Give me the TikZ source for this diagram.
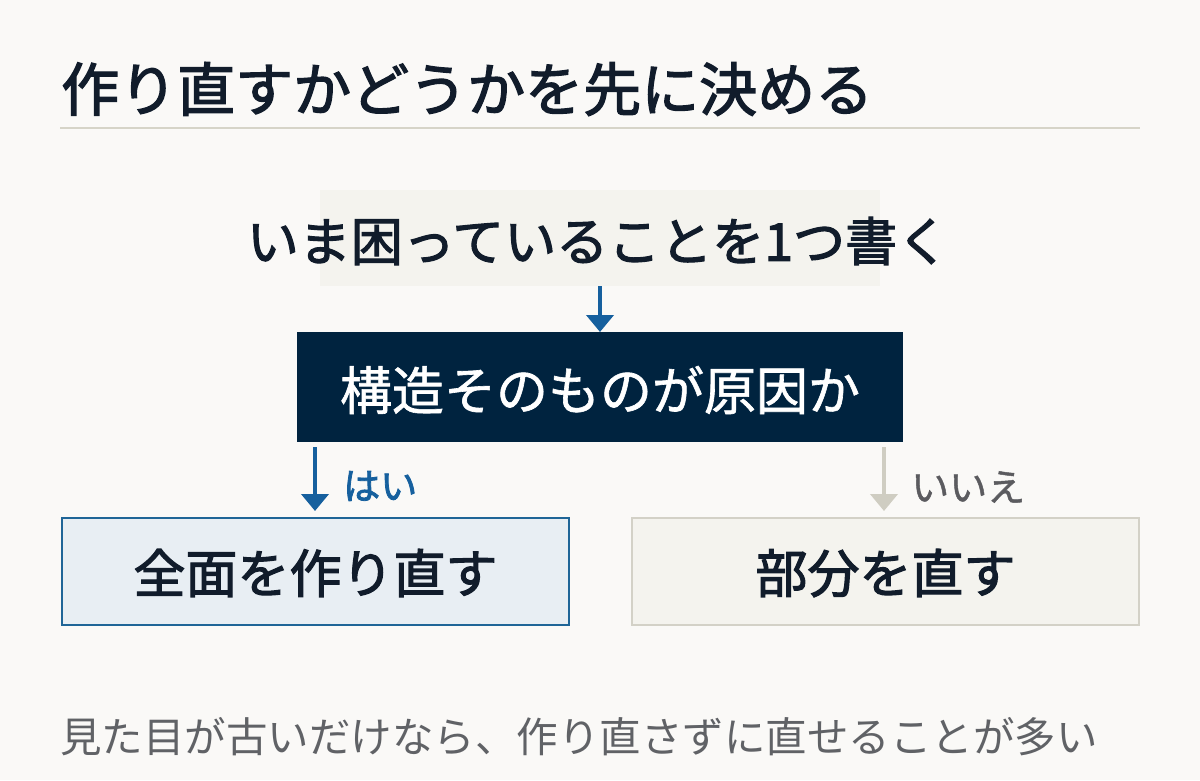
\documentclass[tikz,border=0pt]{standalone}
\usepackage{fontspec}
\usetikzlibrary{arrows.meta}
\newfontfamily\jpr{Noto Sans CJK JP}
\newfontfamily\jpm[FakeBold=2.2]{Noto Sans CJK JP}
\newfontfamily\jpl[FakeBold=1.2]{Noto Sans CJK JP}
\definecolor{bgc}{HTML}{FAF9F7}
\definecolor{ink}{HTML}{111C2B}
\definecolor{navy}{HTML}{00233F}
\definecolor{bluec}{HTML}{16609E}
\definecolor{blueborder}{HTML}{1F6597}
\definecolor{bluefill}{HTML}{E8EEF3}
\definecolor{beigefill}{HTML}{F4F3EE}
\definecolor{beigeborder}{HTML}{D3D1C7}
\definecolor{grayarrow}{HTML}{CFCDC2}
\definecolor{graytext}{HTML}{5B5B5F}
\definecolor{foottext}{HTML}{606266}
\definecolor{rulec}{HTML}{D6D4C8}
\tikzset{
  fs/.style={font=\jpm\fontsize{#1}{#1}\selectfont},
  fsl/.style={font=\jpl\fontsize{#1}{#1}\selectfont},
  fsr/.style={font=\jpr\fontsize{#1}{#1}\selectfont},
  boxbase/.style={rectangle, inner sep=0pt, outer sep=0pt},
  startbox/.style={boxbase, fill=beigefill, minimum width=560pt, minimum height=96pt},
  qbox/.style={boxbase, fill=navy, minimum width=606pt, minimum height=110pt},
  yesbox/.style={boxbase, fill=bluefill, draw=blueborder, line width=2pt, minimum width=507pt, minimum height=107pt},
  nobox/.style={boxbase, fill=beigefill, draw=beigeborder, line width=2pt, minimum width=507pt, minimum height=107pt},
  txt/.style={inner sep=0pt},
  bluearrow/.style={draw=bluec, line width=4pt, -{Triangle[length=17pt,width=27pt]}},
  grayarrowst/.style={draw=grayarrow, line width=4pt, -{Triangle[length=17pt,width=27pt]}},
}
\begin{document}
\begin{tikzpicture}[x=1pt,y=-1pt]
\useasboundingbox (0,0) rectangle (1200,780);
\fill[bgc] (0,0) rectangle (1200,780);
% title
\node[txt, fs=58, text=ink, anchor=west] (title) at (61,89) {作り直すかどうかを先に決める};
\coordinate (rl) at (60,128);
\coordinate (rr) at (1140,128);
\draw[rulec, line width=2pt] (rl) -- (rr);
% start box
\node[startbox] (b1) at (600,238) {};
\node[txt, fs=52, text=ink] (t1) at (598,241) {いま困っていることを1つ書く};
% question box
\node[qbox] (b2) at (600,387) {};
\node[txt, fsl=52, text=white] (t2) at (600,390) {構造そのものが原因か};
% answer boxes
\node[yesbox] (b3) at (315.5,571.5) {};
\node[txt, fs=52, text=ink] (t3) at (315.5,573) {全面を作り直す};
\node[nobox] (b4) at (885.5,571.5) {};
\node[txt, fs=52, text=ink] (t4) at (885.5,573) {部分を直す};
% arrows
\draw[bluearrow] (b1.south) -- (b2.north);
\coordinate (ys) at (315,447);
\coordinate (ye) at (315,511);
\draw[bluearrow] (ys) -- (ye);
\coordinate (ns) at (884,447);
\coordinate (ne) at (884,511);
\draw[grayarrowst] (ns) -- (ne);
\node[txt, fs=37, text=bluec, anchor=west] (yl) at (343,486) {はい};
\node[txt, fsl=38, text=graytext, anchor=west] (nl) at (911,487) {いいえ};
% footer
\node[txt, fsr=41.5, text=foottext, anchor=west] (foot) at (60,737) {見た目が古いだけなら、作り直さずに直せることが多い};
\end{tikzpicture}
\end{document}
